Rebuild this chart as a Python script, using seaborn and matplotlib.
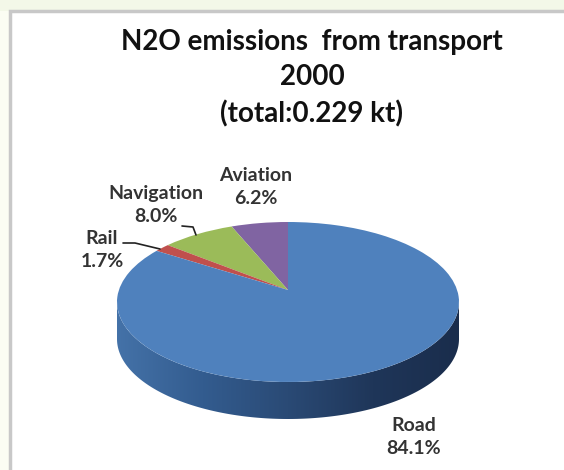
import matplotlib
matplotlib.use('Agg')
import matplotlib.pyplot as plt
from matplotlib.patches import Rectangle, Polygon
from matplotlib.colors import LinearSegmentedColormap
from matplotlib.transforms import Transform
import numpy as np
import seaborn as sns

categories = ['Aviation', 'Navigation', 'Rail', 'Road']
shares = [6.2, 8.0, 1.7, 84.1]
colors = ['#8064a2', '#9bbb59', '#c0504d', '#4f81bd']
title_lines = 'N2O emissions  from transport\n2000\n(total:0.229 kt)'

W, H = 564, 470
CX, CY, RX, RY = 288, 302, 171, 80
DEPTH = 37
APEX_SHIFT = 0.15

sns.set_theme(style='white')
plt.rcParams['font.family'] = ['Lato', 'DejaVu Sans']


class TiltTransform(Transform):
    # keeps the unit circle but moves its centre back, like the 3D view
    input_dims = output_dims = 2
    is_separable = False

    def transform_non_affine(self, values):
        x, y = values[:, 0], values[:, 1]
        d = 1 + APEX_SHIFT * y
        return np.c_[x * np.sqrt(1 - APEX_SHIFT ** 2) / d, (y + APEX_SHIFT) / d]


fig = plt.figure(figsize=(W / 100, H / 100), dpi=100, facecolor='#fbfdf3')


def fx(px):
    return px / W


def fy(py):
    return 1 - py / H


# pale band on top, then white panel with grey border that runs off the right and bottom
fig.add_artist(Rectangle((0, fy(11)), 1, 11 / H, transform=fig.transFigure,
                         facecolor='#f3f8e8', edgecolor='none', zorder=-2))
fig.add_artist(Rectangle((fx(9.5), fy(480)), fx(570), fy(11) - fy(480), transform=fig.transFigure,
                         facecolor='white', edgecolor='#c8c8c8', linewidth=2.5, zorder=-1))

# pie axes, squashed so the circle turns into the tilted disc
ax = fig.add_axes([fx(CX - RX), fy(CY + RY + DEPTH), fx(2 * RX), (2 * RY + DEPTH) / H])
wedges, _ = ax.pie(shares, colors=colors, startangle=90, counterclock=True, radius=1,
                   wedgeprops={'linewidth': 0})
ax.set_aspect('auto')
depth = 2 * DEPTH / (2 * RY)
for w in wedges:
    w.set_transform(TiltTransform() + ax.transData)
    w.set_zorder(5)
    w.set_clip_on(False)

# rim of the disc, shaded left to right
t = np.linspace(np.pi, 2 * np.pi, 200)
rim = np.r_[np.c_[np.cos(t), np.sin(t) - depth], np.c_[np.cos(t[::-1]), np.sin(t[::-1])]]
rim_patch = Polygon(rim, closed=True, transform=ax.transData, facecolor='none', edgecolor='none')
ax.add_patch(rim_patch)
cmap = LinearSegmentedColormap.from_list('rim', ['#4472a8', '#335c8f', '#2a4a75', '#1f3659', '#1a2d4c'])
img = ax.imshow(np.linspace(0, 1, 256)[None, :], cmap=cmap, extent=(-1, 1, -1 - depth, 1),
                aspect='auto', zorder=3)
img.set_clip_path(rim_patch)
ax.set_xlim(-1, 1)
ax.set_ylim(-1 - depth, 1)

fig.text(fx(312), fy(78), title_lines, ha='center', va='center', fontsize=20, fontweight='bold',
         color='#111111', linespacing=1.44)

# data labels
label_pos = {'Aviation': (256, 187), 'Navigation': (156, 205), 'Rail': (102, 250), 'Road': (414, 437)}
for name, share in zip(categories, shares):
    x, y = label_pos[name]
    fig.text(fx(x), fy(y), f'{name}\n{share:.1f}%', ha='center', va='center', fontsize=14,
             fontweight='bold', color='#333333', linespacing=1.42)

# leader lines
fig.add_artist(plt.Line2D([fx(123), fx(135), fx(160)], [fy(243), fy(243), fy(249)], color='#222222', linewidth=1.2))
fig.add_artist(plt.Line2D([fx(182), fx(193), fx(196)], [fy(226), fy(227), fy(235)], color='#222222', linewidth=1.2))

fig.savefig('out.png', dpi=100, facecolor=fig.get_facecolor())
